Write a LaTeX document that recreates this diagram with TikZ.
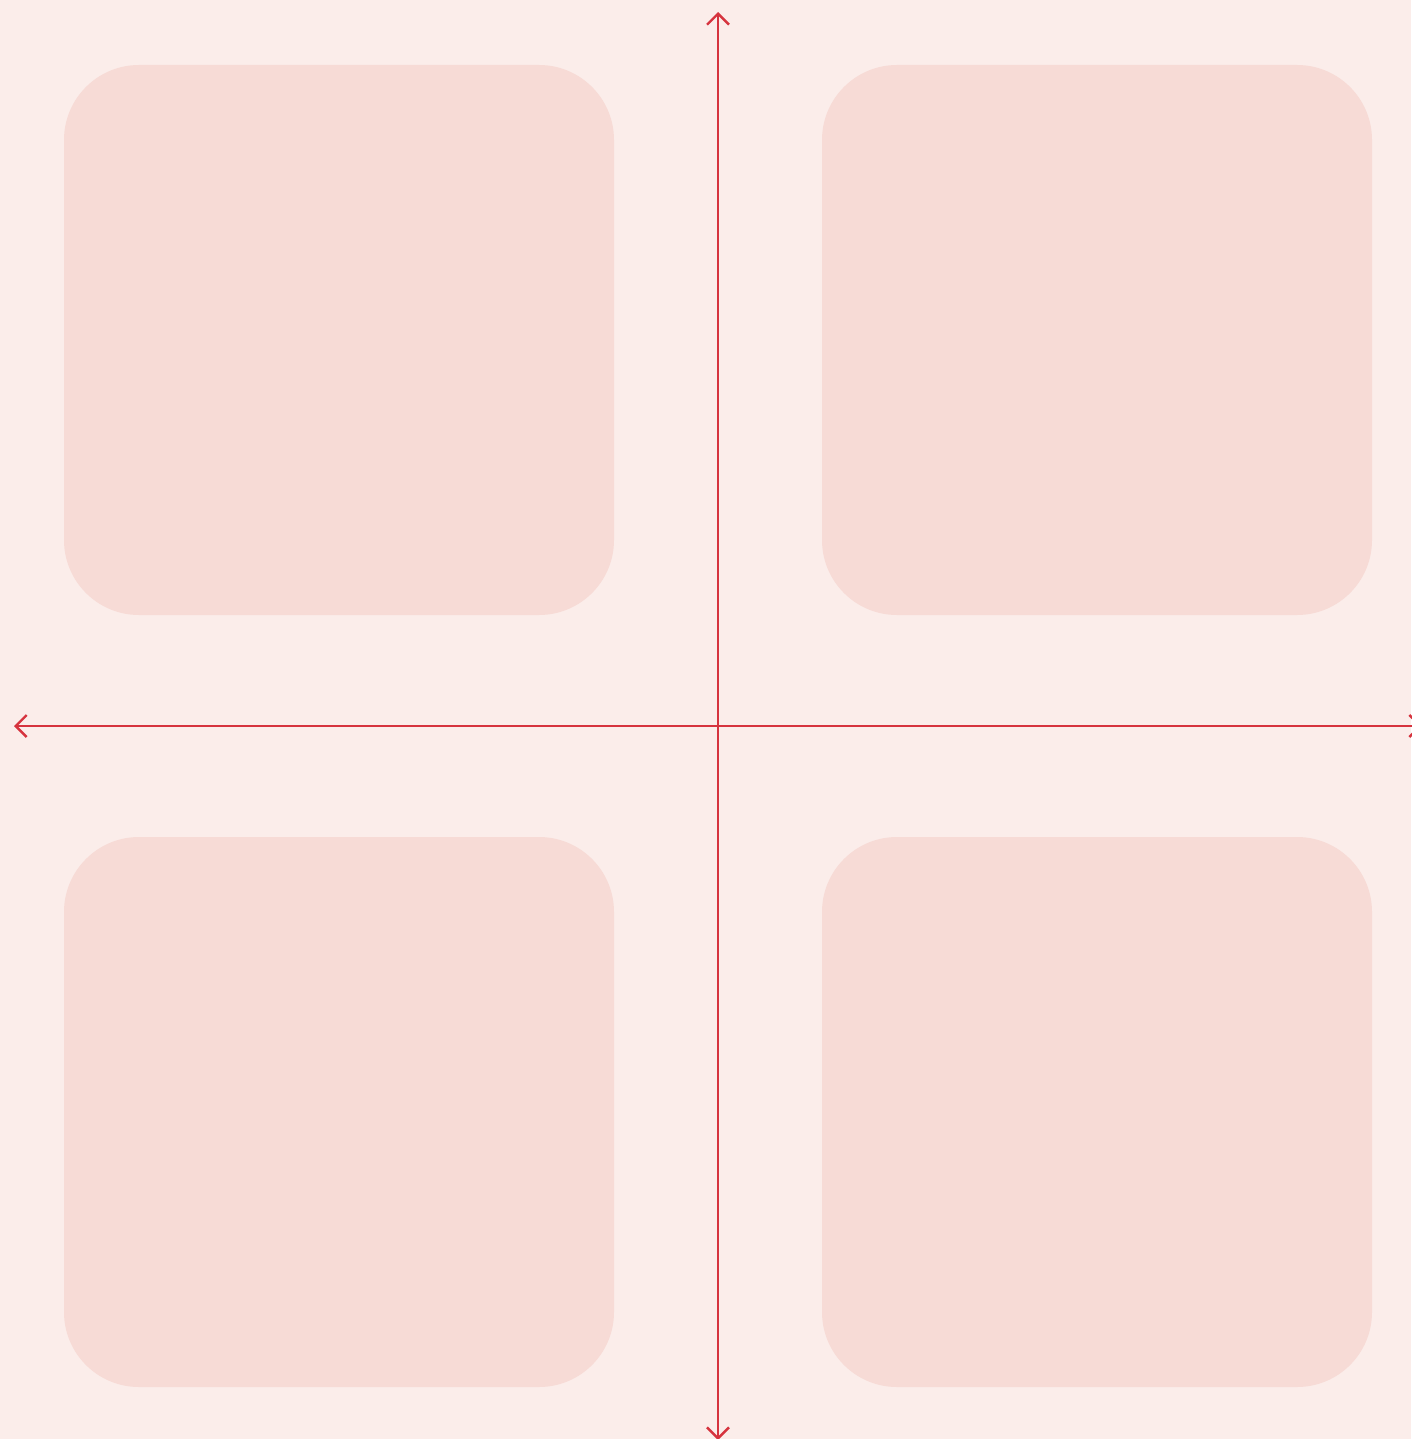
\documentclass[tikz,border=0pt]{standalone}
\usetikzlibrary{arrows.meta}
\definecolor{bg}{HTML}{FBEDEA}
\definecolor{boxc}{HTML}{F7DBD6}
\definecolor{axisc}{HTML}{D6333E}
\begin{document}
\begin{tikzpicture}[x=1pt,y=-1pt,
  quad/.style={fill=boxc,draw=none,rounded corners=75pt},
  axisline/.style={draw=axisc,line width=2.4pt,{Straight Barb[length=11pt,width=22pt,line width=2.4pt]}-{Straight Barb[length=11pt,width=22pt,line width=2.4pt]}}]
\useasboundingbox (0,0) rectangle (1411,1439);
\fill[bg] (0,0) rectangle (1411,1439);
\fill[quad] (64,65) rectangle (614,615);
\fill[quad] (822,65) rectangle (1372,615);
\fill[quad] (64,837) rectangle (614,1387);
\fill[quad] (822,837) rectangle (1372,1387);
\coordinate (top) at (718,12);
\coordinate (bottom) at (718,1440);
\coordinate (left) at (14,726);
\coordinate (right) at (1422,726);
\draw[axisline] (bottom) -- (top);
\draw[axisline] (left) -- (right);
\end{tikzpicture}
\end{document}
